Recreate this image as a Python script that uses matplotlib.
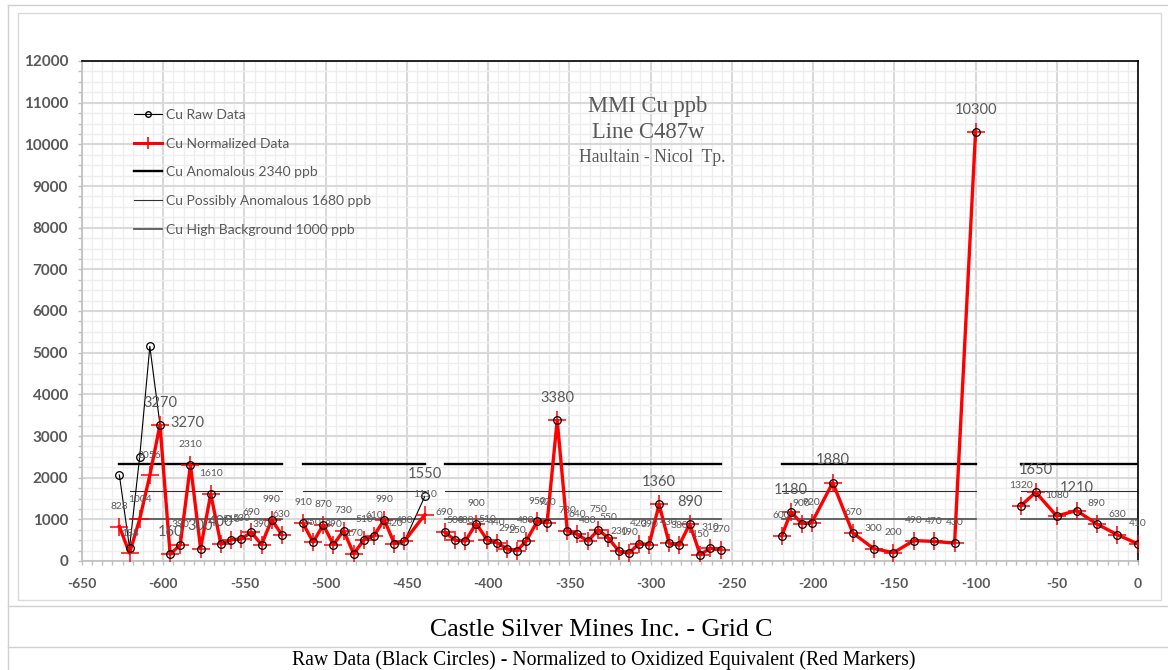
import matplotlib
matplotlib.use('Agg')
import matplotlib.pyplot as plt
from matplotlib.lines import Line2D
from matplotlib.patches import Rectangle
from matplotlib.ticker import MultipleLocator, FuncFormatter

# ── Survey data: station (m) / Cu (ppb), one set per line segment ──
X1 = [-627, -620.75, -614.5, -608.25, -602, -595.75, -589.5, -583.25, -577,
      -570.75, -564.5, -558.25, -552, -545.75, -539.5, -533.25, -527]
RAW1 = [2064, 320, 2500, 5150, 3270, 160, 390, 2310, 300, 1610, 400, 510,
        530, 690, 390, 990, 630]
NORM1 = [828, 188, 1004, 2056, 3270, 160, 390, 2310, 300, 1610, 400, 510,
         530, 690, 390, 990, 630]

X2 = [-514, -507.75, -501.5, -495.25, -489, -482.75, -476.5, -470.25, -464,
      -457.75, -451.5, -439]
RAW2 = [910, 450, 870, 390, 730, 170, 510, 610, 990, 420, 480, 1550]
NORM2 = [910, 450, 870, 390, 730, 170, 510, 610, 990, 420, 480, 1110]

X3 = [-426.7, -420.2, -414.0, -407.4, -400.7, -394.5, -388.3, -382.2, -376.6,
      -369.8, -363.7, -357.5, -351.3, -345.2, -338.6, -332.2, -326.0, -319.4,
      -313.3, -307.1, -300.9, -294.8, -288.6, -282.4, -275.9, -269.5, -263.3,
      -256.7]
RAW3 = [690, 500, 480, 900, 510, 440, 290, 250, 480, 950, 920, 3380, 730,
        640, 480, 750, 550, 230, 190, 420, 390, 1360, 430, 380, 890, 150,
        310, 270]
NORM3 = list(RAW3)

X4 = [-219.3, -213.6, -207.0, -200.8, -187.9, -175.5, -162.8, -150.5,
      -138.0, -125.6, -112.9, -100.0]
RAW4 = [600, 1180, 900, 920, 1880, 670, 300, 200, 490, 470, 430, 10300]
NORM4 = list(RAW4)

X5 = [-72.3, -62.9, -50.1, -37.8, -25.4, -12.7, 0]
RAW5 = [1320, 1650, 1080, 1210, 890, 630, 410]
NORM5 = list(RAW5)

SEGMENTS = [(X1, RAW1, NORM1), (X2, RAW2, NORM2), (X3, RAW3, NORM3),
            (X4, RAW4, NORM4), (X5, RAW5, NORM5)]

# threshold levels (ppb)
ANOM, POSS, HIGH_BG = 2340, 1680, 1000

# points whose raw value carries the large data label
BIG_LABELS = [[4, 5, 8, 10], [11], [11, 21, 24], [1, 4, 11], [1, 3]]

TXT = '#595959'
FONT = ['Lato', 'DejaVu Sans']
plt.rcParams['font.family'] = FONT

fig = plt.figure(figsize=(11.68, 6.70), dpi=100)
ax = fig.add_axes([82/1168, 1 - 561/670, (1138 - 82)/1168, (561 - 61)/670])

# ── thresholds per segment ──
for si, (xs, raw, norm) in enumerate(SEGMENTS):
    x0 = xs[1] if si == 0 else xs[0]
    ax.plot([xs[0], xs[-1]], [ANOM, ANOM], color='black', lw=1.7, zorder=2)
    ax.plot([x0, xs[-1]], [POSS, POSS], color='#303030', lw=0.8, zorder=2)
    ax.plot([x0, xs[-1]], [HIGH_BG, HIGH_BG], color='#595959', lw=1.3, zorder=2)

# ── series ──
for si, (xs, raw, norm) in enumerate(SEGMENTS):
    ax.plot(xs, raw, color='black', lw=0.8, zorder=3)
    ax.plot(xs, norm, color='red', lw=2.4, zorder=4)
    ax.plot(xs, norm, ls='none', marker='+', ms=13, mew=1.1, color='red', zorder=5)
    ax.plot(xs, raw, ls='none', marker='o', ms=5.5, mfc='none', mec='black',
            mew=0.9, zorder=6)

    for i, (x, r, n) in enumerate(zip(xs, raw, norm)):
        big = i in BIG_LABELS[si]
        if big:
            ax.annotate(f'{r}', (x, r), xytext=(0, 16), textcoords='offset points',
                        ha='center', va='center', fontsize=10.5, color=TXT, zorder=7)
        if si == 0 and i == 4:
            ax.annotate(f'{n}', (x, n), xytext=(20, 1), textcoords='offset points',
                        ha='center', va='center', fontsize=10.5, color=TXT, zorder=7)
            continue
        if big and r == n:
            continue
        ax.annotate(f'{n}', (x, n), xytext=(0, 14.5), textcoords='offset points',
                    ha='center', va='center', fontsize=7.4, color=TXT, zorder=7)

# ── axes styling ──
ax.set_xlim(-650, 0)
ax.set_ylim(0, 12000)
ax.xaxis.set_major_locator(MultipleLocator(50))
ax.xaxis.set_minor_locator(MultipleLocator(6.25))
ax.yaxis.set_major_locator(MultipleLocator(1000))
ax.yaxis.set_minor_locator(MultipleLocator(250))
ax.xaxis.set_major_formatter(FuncFormatter(lambda v, p: f'{v:.0f}'))
ax.grid(which='minor', color='#eeeeee', lw=1.0)
ax.grid(which='major', color='#d9d9d9', lw=1.5)
ax.set_axisbelow(True)
ax.tick_params(which='both', direction='out', color='#bfbfbf', length=3, width=1)
ax.tick_params(axis='x', pad=9, labelsize=10, labelcolor=TXT)
ax.tick_params(axis='y', pad=7, labelsize=11, labelcolor=TXT)
for lab in ax.get_xticklabels() + ax.get_yticklabels():
    lab.set_fontweight('bold')
for side in ['left', 'bottom']:
    ax.spines[side].set_color('#bfbfbf')
    ax.spines[side].set_linewidth(1.2)
for side in ['top', 'right']:
    ax.spines[side].set_color('black')
    ax.spines[side].set_linewidth(1.2)

# ── in-plot title ──
ax.text(0.536, 0.909, 'MMI Cu ppb', transform=ax.transAxes, ha='center',
        va='center', fontsize=16.3, color=TXT, family='Liberation Serif')
ax.text(0.536, 0.856, 'Line C487w', transform=ax.transAxes, ha='center',
        va='center', fontsize=16.3, color=TXT, family='Liberation Serif')
ax.text(0.54, 0.808, 'Haultain - Nicol  Tp.', transform=ax.transAxes,
        ha='center', va='center', fontsize=12.7, color=TXT,
        family='Liberation Serif')

# ── legend ──
handles = [
    Line2D([], [], color='black', lw=0.8, marker='o', ms=4, mfc='none', mec='black'),
    Line2D([], [], color='red', lw=2.2, marker='+', ms=8, mew=1.2),
    Line2D([], [], color='black', lw=1.7),
    Line2D([], [], color='#303030', lw=0.8),
    Line2D([], [], color='#595959', lw=1.3),
]
labels = ['Cu Raw Data', 'Cu Normalized Data', 'Cu Anomalous 2340 ppb',
          'Cu Possibly Anomalous 1680 ppb', 'Cu High Background 1000 ppb']
ax.legend(handles, labels, loc='upper left',
          bbox_to_anchor=(134/1168, 1 - 109/670), bbox_transform=fig.transFigure,
          frameon=False, fontsize=10, labelcolor=TXT, handlelength=2.0,
          handletextpad=0.3, labelspacing=1.2, borderpad=0, borderaxespad=0)

# ── frame and captions ──
fig.add_artist(Rectangle((18/1168, 1 - 600/670), (1161 - 18)/1168, (600 - 13)/670,
                         transform=fig.transFigure, fill=False, ec='#d9d9d9', lw=1))
for yy in [5, 606, 647]:
    fig.add_artist(Line2D([8/1168, 1], [1 - yy/670, 1 - yy/670],
                          transform=fig.transFigure, color='#d0d0d0', lw=1))
fig.add_artist(Line2D([8/1168, 8/1168], [0, 1 - 5/670],
                      transform=fig.transFigure, color='#d0d0d0', lw=1))

fig.text(601/1168, 1 - 630/670, 'Castle Silver Mines Inc. - Grid C', ha='center',
         va='center', fontsize=18.6, color='black', family='Liberation Serif')
fig.text(604/1168, 1 - 660/670,
         'Raw Data (Black Circles) - Normalized to Oxidized Equivalent (Red Markers)',
         ha='center', va='center', fontsize=14.2, color='black',
         family='Liberation Serif')

fig.savefig('out.png', dpi=100)
